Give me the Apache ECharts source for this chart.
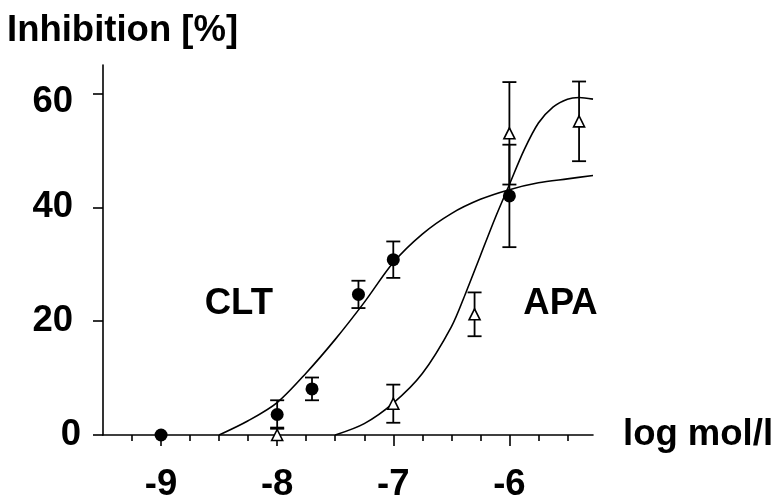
<!DOCTYPE html>
<html>
<head>
<meta charset="utf-8">
<script src="https://cdn.jsdelivr.net/npm/echarts@6/dist/echarts.min.js"></script>
<style>html,body{margin:0;padding:0;background:#fff;}#c{width:777px;height:495px;}</style>
</head>
<body>
<div id="c"></div>
<script>
// ---- data ----
const clX   = [-9, -8, -7.7, -7.3, -7, -6];
const clY   = [0, 3.6, 8.1, 24.7, 30.8, 42.0];
const clErr = [0, 2.5, 2.0, 2.4, 3.2, 9.0];

const apX   = [-8, -7, -6.3, -6, -5.4];
const apY   = [0, 5.5, 21.2, 53.0, 55.1];
const apErr = [1.3, 3.35, 3.85, 9.0, 7.0];

const clFitX = [-8.5, -8.25, -8, -7.75, -7.5, -7.25, -7, -6.75, -6.5, -6.25, -6, -5.75, -5.5, -5.28];
const clFitY = [0, 2.5, 5.7, 10.9, 16.8, 23.3, 30.3, 35.3, 38.9, 41.4, 43.1, 44.3, 45.0, 45.6];

const apFitX = [-7.5, -7.25, -7, -6.75, -6.5, -6.375, -6.25, -6.125, -6, -5.875, -5.75, -5.625, -5.5, -5.4, -5.28];
const apFitY = [0, 2.0, 5.6, 10.8, 19.0, 25.0, 31.5, 38.0, 44.0, 50.0, 54.8, 57.6, 59.0, 59.3, 59.0];

const xTickValues = [-9, -8, -7, -6];
const xTickLabels = ['-9', '-8', '-7', '-6'];
const xMinorTicks = [-9.25, -8.75, -8.5, -8.25, -7.75, -7.5, -7.25, -6.75, -6.5, -6.25, -5.75, -5.5];
const yTickValues = [0, 20, 40, 60];
const yTickLabels = ['0', '20', '40', '60'];

const annotX = [-8.33, -5.56];
const annotY = [23, 23];
const annotText = ['CLT', 'APA'];

const xTitle = 'log mol/l';
const yTitle = 'Inhibition [%]';

// ---- chart ----
const FONT = '"Liberation Sans", Arial, Helvetica, sans-serif';
const FS = 36.5;
const chart = echarts.init(document.getElementById('c'), null, {renderer: 'canvas'});

function zip(a, b) { return a.map((v, i) => [v, b[i]]); }
function errData(xs, ys, es) { return xs.map((x, i) => [x, ys[i] - es[i], ys[i] + es[i]]); }

function errRender(params, api) {
  const x = api.value(0);
  const lo = api.coord([x, api.value(1)]);
  const hi = api.coord([x, api.value(2)]);
  if (Math.abs(hi[1] - lo[1]) < 0.5) return null;
  const w = 7;
  const st = {stroke: '#000', lineWidth: 1.8};
  return {
    type: 'group',
    children: [
      {type: 'line', shape: {x1: lo[0], y1: lo[1], x2: hi[0], y2: hi[1]}, style: st},
      {type: 'line', shape: {x1: hi[0] - w, y1: hi[1], x2: hi[0] + w, y2: hi[1]}, style: st},
      {type: 'line', shape: {x1: lo[0] - w, y1: lo[1], x2: lo[0] + w, y2: lo[1]}, style: st}
    ]
  };
}

const txt = {fontFamily: FONT, fontSize: FS, fontWeight: 'bold', color: '#000'};

chart.setOption({
  animation: false,
  backgroundColor: '#fff',
  title: {
    text: yTitle, left: 7, top: 12, padding: 0,
    textStyle: Object.assign({}, txt)
  },
  grid: {left: 103, right: 184, top: 65, bottom: 60, containLabel: false, outerBoundsMode: 'none'},
  xAxis: [
    {
      type: 'value', min: -9.5, max: -5.28, position: 'bottom',
      axisLine: {show: true, onZero: false, lineStyle: {color: '#000', width: 1.6}},
      axisTick: {show: true, customValues: xTickValues, length: 11, lineStyle: {color: '#000', width: 1.6}},
      axisLabel: Object.assign({
        show: true, customValues: xTickValues, margin: 31,
        formatter: v => xTickLabels[xTickValues.indexOf(v)] ?? ''
      }, txt),
      splitLine: {show: false},
      name: xTitle, nameLocation: 'end', nameGap: 30,
      nameTextStyle: Object.assign({verticalAlign: 'middle'}, txt)
    },
    {
      type: 'value', min: -9.5, max: -5.28, position: 'bottom', offset: 0,
      axisLine: {show: false},
      axisTick: {show: true, customValues: xMinorTicks, length: 6, lineStyle: {color: '#000', width: 1.6}},
      axisLabel: {show: false},
      splitLine: {show: false}
    }
  ],
  yAxis: {
    type: 'value', min: 0, max: 65,
    axisLine: {show: true, onZero: false, lineStyle: {color: '#000', width: 1.6}},
    axisTick: {show: true, customValues: yTickValues, length: 10, lineStyle: {color: '#000', width: 1.6}},
    axisLabel: Object.assign({
      show: true, customValues: yTickValues, margin: 22,
      formatter: v => {
        const t = yTickLabels[yTickValues.indexOf(v)] ?? '';
        if (v === 0) return '{z|' + t + '}';
        if (v === 60) return '{s|' + t + '}';
        return '{a|' + t + '}';
      },
      rich: {
        z: Object.assign({}, txt),
        a: Object.assign({padding: [0, 8, 0, 0]}, txt),
        s: Object.assign({padding: [16, 8, 0, 0]}, txt)
      }
    }, txt),
    splitLine: {show: false}
  },
  series: [
    {
      type: 'line', data: zip(clFitX, clFitY), smooth: 0.3, showSymbol: false, symbol: 'none',
      lineStyle: {color: '#000', width: 1.6}, z: 2
    },
    {
      type: 'line', data: zip(apFitX, apFitY), smooth: 0.3, showSymbol: false, symbol: 'none',
      lineStyle: {color: '#000', width: 1.6}, z: 2
    },
    {
      type: 'custom', renderItem: errRender, data: errData(clX, clY, clErr),
      encode: {x: 0, y: [1, 2]}, clip: true, z: 3
    },
    {
      type: 'custom', renderItem: errRender, data: errData(apX, apY, apErr),
      encode: {x: 0, y: [1, 2]}, clip: true, z: 3
    },
    {
      type: 'scatter', data: zip(clX, clY), symbol: 'circle', symbolSize: 13,
      itemStyle: {color: '#000', opacity: 1}, z: 4, clip: false
    },
    {
      type: 'scatter', data: zip(apX, apY), symbol: 'triangle', symbolSize: [11, 11],
      itemStyle: {color: '#fff', borderColor: '#000', borderWidth: 1.6, opacity: 1}, z: 5, clip: false
    },
    {
      type: 'scatter', symbolSize: 1, z: 6,
      data: annotX.map((x, i) => ({value: [x, annotY[i]], name: annotText[i]})),
      label: Object.assign({show: true, position: 'inside', formatter: p => p.name, opacity: 1}, txt),
      itemStyle: {color: 'rgba(0,0,0,0)', opacity: 1}
    }
  ]
});
</script>
</body>
</html>
